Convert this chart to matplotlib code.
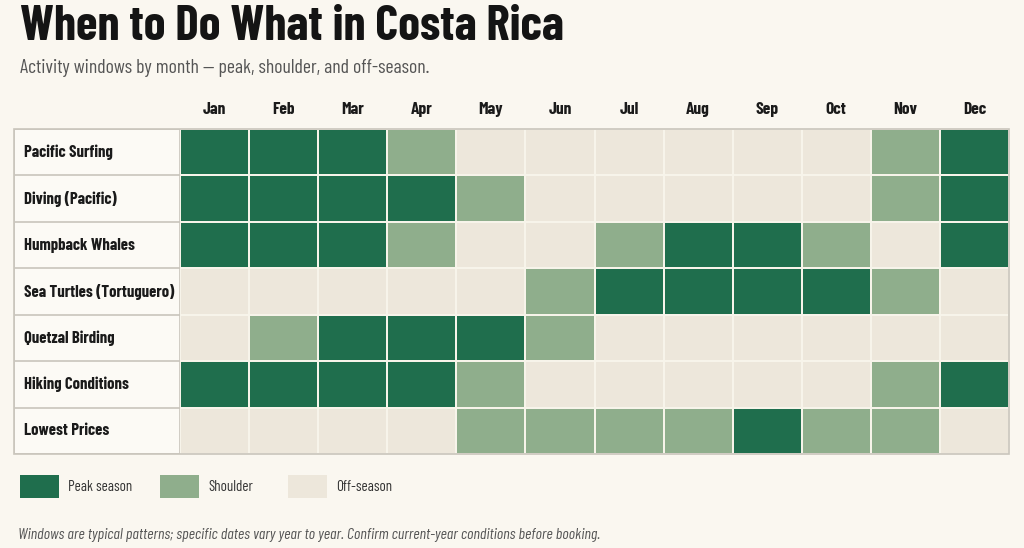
import matplotlib
matplotlib.use("Agg")
import matplotlib.pyplot as plt
from matplotlib import font_manager
from matplotlib.colors import ListedColormap
from matplotlib.patches import Rectangle
import numpy as np

months = ["Jan", "Feb", "Mar", "Apr", "May", "Jun", "Jul", "Aug", "Sep", "Oct", "Nov", "Dec"]
activities = ["Pacific Surfing", "Diving (Pacific)", "Humpback Whales", "Sea Turtles (Tortuguero)",
              "Quetzal Birding", "Hiking Conditions", "Lowest Prices"]
# 2 = peak, 1 = shoulder, 0 = off-season
pacific_surfing = [2, 2, 2, 1, 0, 0, 0, 0, 0, 0, 1, 2]
diving_pacific = [2, 2, 2, 2, 1, 0, 0, 0, 0, 0, 1, 2]
humpback_whales = [2, 2, 2, 1, 0, 0, 1, 2, 2, 1, 0, 2]
sea_turtles = [0, 0, 0, 0, 0, 1, 2, 2, 2, 2, 1, 0]
quetzal_birding = [0, 1, 2, 2, 2, 1, 0, 0, 0, 0, 0, 0]
hiking = [2, 2, 2, 2, 1, 0, 0, 0, 0, 0, 1, 2]
lowest_prices = [0, 0, 0, 0, 1, 1, 1, 1, 2, 1, 1, 0]
legend_labels = ["Peak season", "Shoulder", "Off-season"]

BG = "#faf7f0"
OFF = "#ede7db"
SHOULDER = "#8fae8c"
PEAK = "#1f6e4d"
LINE = "#c9c5bc"

# pick a condensed font if one is installed
names = {f.name for f in font_manager.fontManager.ttflist}
FONT = "DejaVu Sans"
for cand in ["Barlow Condensed", "Roboto Condensed", "Archivo Narrow",
             "IBM Plex Sans Condensed", "Liberation Sans Narrow"]:
    if cand in names:
        FONT = cand
        break
plt.rcParams["font.family"] = [FONT, "DejaVu Sans"]

grid = np.array([pacific_surfing, diving_pacific, humpback_whales, sea_turtles,
                 quetzal_birding, hiking, lowest_prices])

fig = plt.figure(figsize=(10.24, 5.48), dpi=100, facecolor=BG)
W, H = 1024, 548

def fx(px):
    return px / W

def fy(py):
    return 1 - py / H

# table geometry (pixels)
left, gx0, gx1, gy0, gy1 = 14, 180, 1009, 129, 454

ax = fig.add_axes([fx(gx0), fy(gy1), fx(gx1 - gx0), (gy1 - gy0) / H])
cmap = ListedColormap([OFF, SHOULDER, PEAK])
ax.pcolormesh(grid, cmap=cmap, vmin=-0.5, vmax=2.5, edgecolors="#f7f4ea", linewidth=1.4)
ax.set_xlim(0, 12)
ax.set_ylim(7, 0)
ax.axis("off")
for j, m in enumerate(months):
    ax.text(j + 0.5, -0.42, m, ha="center", va="center", fontsize=12.5, fontweight="bold",
            color="#1a1a1a", clip_on=False)

# label column
lab = fig.add_axes([fx(left), fy(gy1), fx(gx0 - left), (gy1 - gy0) / H])
lab.set_xlim(0, 1)
lab.set_ylim(len(activities), 0)
lab.axis("off")
lab.add_patch(Rectangle((0, 0), 1, len(activities), facecolor="#fcfaf5", edgecolor=LINE, lw=1.2))
for i, a in enumerate(activities):
    if i > 0:
        lab.axhline(i, color=LINE, lw=1.2)
    lab.text(0.06, i + 0.5, a, ha="left", va="center", fontsize=12, fontweight="bold", color="#1a1a1a")

# outer border of the whole table
fig.patches.append(Rectangle((fx(left), fy(gy1)), fx(gx1 - left), (gy1 - gy0) / H,
                             transform=fig.transFigure, fill=False, edgecolor=LINE, lw=1.2))

fig.text(fx(20), fy(27), "When to Do What in Costa Rica", ha="left", va="center",
         fontsize=35.5, fontweight="bold", color="#141414")
fig.text(fx(20), fy(68), "Activity windows by month \u2014 peak, shoulder, and off-season.",
         ha="left", va="center", fontsize=14.2, color="#555555")

# legend
sw_x = [20, 160, 288]
sw_colors = [PEAK, SHOULDER, OFF]
for x, c, t in zip(sw_x, sw_colors, legend_labels):
    fig.patches.append(Rectangle((fx(x), fy(498)), fx(39), 23 / H, transform=fig.transFigure,
                                 facecolor=c, edgecolor="none"))
    fig.text(fx(x + 48), fy(487), t, ha="left", va="center", fontsize=10.8, color="#333333")

fig.text(fx(18), fy(535), "Windows are typical patterns; specific dates vary year to year. "
         "Confirm current-year conditions before booking.", ha="left", va="center",
         fontsize=11.4, style="italic", color="#555555")

fig.savefig("out.png", dpi=100, facecolor=BG)
